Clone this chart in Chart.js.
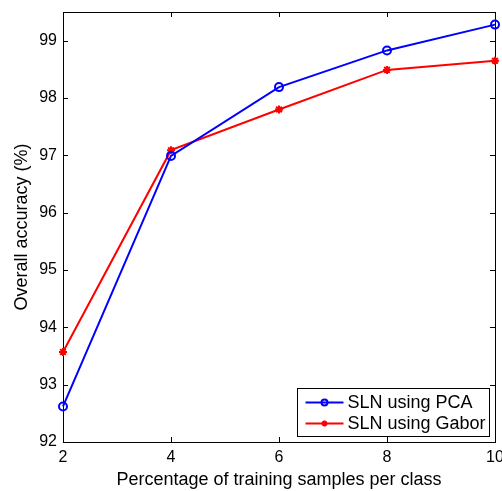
<!DOCTYPE html>
<html>
<head>
<meta charset="utf-8">
<script src="https://cdn.jsdelivr.net/npm/chart.js@4/dist/chart.umd.min.js"></script>
<style>
  html, body { margin: 0; padding: 0; background: #fff; }
  #wrap { width: 502px; height: 491px; }
</style>
</head>
<body>
<div id="wrap"><canvas id="c" width="502" height="491"></canvas></div>
<script>
// Training share (% of samples per class) and overall accuracy of each feature extractor
const samplePercent = [2, 4, 6, 8, 10];
const accuracyPCA   = [92.62, 96.99, 98.19, 98.83, 99.28];
const accuracyGabor = [93.57, 97.09, 97.80, 98.49, 98.65];
const seriesNames   = ['SLN using PCA', 'SLN using Gabor'];
const xTickValues   = [2, 4, 6, 8, 10];
const yTickValues   = [92, 93, 94, 95, 96, 97, 98, 99];
const xTitle = 'Percentage of training samples per class';
const yTitle = 'Overall accuracy (%)';

const FONT = '"Liberation Sans", Arial, Helvetica, sans-serif';

// Box around the plot with short inward tick marks on all four sides
const framePlugin = {
  id: 'frame',
  beforeDatasetsDraw(chart) {
    const { ctx, chartArea: a, scales: { x, y } } = chart;
    const L = 5;
    ctx.save();
    ctx.strokeStyle = '#000';
    ctx.lineWidth = 1;
    ctx.beginPath();
    x.ticks.forEach(t => {
      const px = Math.round(x.getPixelForValue(t.value)) + 0.5;
      ctx.moveTo(px, a.bottom); ctx.lineTo(px, a.bottom - L);
      ctx.moveTo(px, a.top);    ctx.lineTo(px, a.top + L);
    });
    y.ticks.forEach(t => {
      const py = Math.round(y.getPixelForValue(t.value)) + 0.5;
      ctx.moveTo(a.left, py);  ctx.lineTo(a.left + L, py);
      ctx.moveTo(a.right, py); ctx.lineTo(a.right - L, py);
    });
    ctx.stroke();
    ctx.strokeRect(Math.round(a.left) + 0.5, Math.round(a.top) + 0.5,
                   Math.round(a.right - a.left), Math.round(a.bottom - a.top));
    ctx.restore();
  }
};

// Boxed legend in the lower-right corner of the plot
const boxLegendPlugin = {
  id: 'boxLegend',
  afterDatasetsDraw(chart) {
    const { ctx, chartArea: a } = chart;
    const sets = chart.data.datasets;
    const rowH = 21;
    const boxW = 192, boxH = 48;
    const bx = Math.round(a.right - 6 - boxW) + 0.5;
    const by = Math.round(a.bottom - 6 - boxH) + 0.5;
    ctx.save();
    ctx.fillStyle = '#fff';
    ctx.strokeStyle = '#000';
    ctx.lineWidth = 1;
    ctx.fillRect(bx, by, boxW, boxH);
    ctx.strokeRect(bx, by, boxW, boxH);
    ctx.font = '18px ' + FONT;
    ctx.textBaseline = 'middle';
    ctx.textAlign = 'left';
    sets.forEach((ds, i) => {
      const cy = by + 14 + i * rowH;
      ctx.strokeStyle = ds.borderColor;
      ctx.lineWidth = ds.borderWidth;
      ctx.beginPath();
      ctx.moveTo(bx + 8, cy);
      ctx.lineTo(bx + 46, cy);
      ctx.stroke();
      const opts = {
        pointStyle: ds.pointStyle, radius: 3, rotation: 0,
        borderWidth: ds.pointBorderWidth
      };
      ctx.fillStyle = ds.pointBackgroundColor;
      ctx.strokeStyle = ds.pointBorderColor;
      ctx.lineWidth = ds.pointBorderWidth;
      Chart.helpers.drawPoint(ctx, opts, bx + 27, cy);
      ctx.fillStyle = '#000';
      ctx.fillText(ds.label, bx + 50, cy + 1);
    });
    ctx.restore();
  }
};

const toPoints = vals => samplePercent.map((p, i) => ({ x: p, y: vals[i] }));

new Chart(document.getElementById('c'), {
  type: 'line',
  data: {
    datasets: [
      {
        label: seriesNames[0],
        data: toPoints(accuracyPCA),
        borderColor: '#0000ff',
        borderWidth: 2,
        pointStyle: 'circle',
        pointRadius: 4,
        pointBorderWidth: 2,
        pointBorderColor: '#0000ff',
        pointBackgroundColor: 'rgba(0,0,0,0)',
        tension: 0
      },
      {
        label: seriesNames[1],
        data: toPoints(accuracyGabor),
        borderColor: '#ff0000',
        borderWidth: 2,
        pointStyle: 'star',
        pointRadius: 4,
        pointBorderWidth: 2,
        pointBorderColor: '#ff0000',
        pointBackgroundColor: '#ff0000',
        tension: 0
      }
    ]
  },
  options: {
    responsive: false,
    animation: false,
    events: [],
    clip: false,
    layout: { padding: { top: 12, right: 7, bottom: 0, left: 0 } },
    plugins: { legend: { display: false }, tooltip: { enabled: false } },
    scales: {
      x: {
        type: 'linear',
        min: xTickValues[0],
        max: xTickValues[xTickValues.length - 1],
        afterBuildTicks: s => { s.ticks = xTickValues.map(v => ({ value: v })); },
        grid: { display: false, drawTicks: false },
        border: { display: false },
        ticks: { color: '#000', font: { family: FONT, size: 16 }, padding: 6, maxRotation: 0, autoSkip: false },
        title: { display: true, text: xTitle, color: '#000', font: { family: FONT, size: 18 }, padding: { top: 0, bottom: 0 } },
        afterFit: s => { s.height = 49; s.paddingLeft = 0; s.paddingRight = 0; }
      },
      y: {
        type: 'linear',
        min: 92,
        max: 99.5,
        afterBuildTicks: s => { s.ticks = yTickValues.map(v => ({ value: v })); },
        grid: { display: false, drawTicks: false },
        border: { display: false },
        ticks: { color: '#000', font: { family: FONT, size: 16 }, padding: 6 },
        title: { display: true, text: yTitle, color: '#000', font: { family: FONT, size: 18 }, padding: { top: 11, bottom: 0 } },
        afterFit: s => { s.width = 63; s.paddingTop = 0; s.paddingBottom = 0; }
      }
    }
  },
  plugins: [framePlugin, boxLegendPlugin]
});
</script>
</body>
</html>
